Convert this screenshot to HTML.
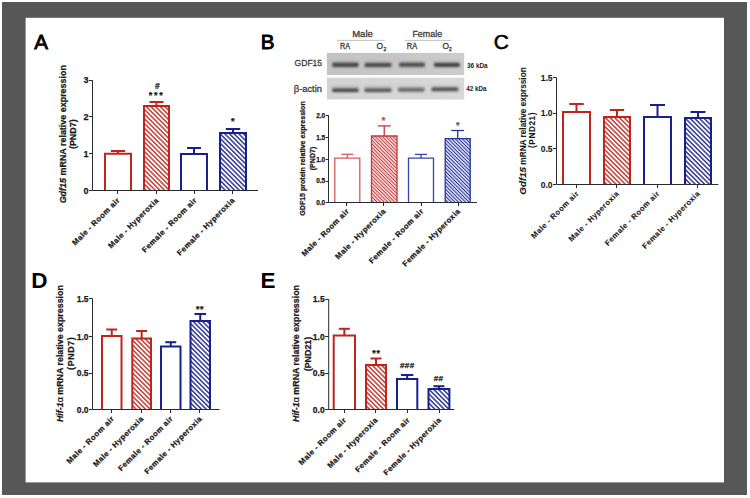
<!DOCTYPE html><html><head><meta charset="utf-8"><style>html,body{margin:0;padding:0;background:#fff;overflow:hidden}svg{display:block}text{font-family:"Liberation Sans",sans-serif}.c text{stroke:#1a1a1a;stroke-width:0.25px}.c2 text{stroke:#222;stroke-width:0.1px}</style></head><body>
<svg width="750" height="498" viewBox="0 0 750 498">
<defs>
<pattern id="hrA" patternUnits="userSpaceOnUse" width="3.3" height="3.3" patternTransform="rotate(-45)"><rect width="3.3" height="3.3" fill="#fff"/><line x1="1.65" y1="0" x2="1.65" y2="3.3" stroke="#c0241c" stroke-width="1.35"/></pattern>
<pattern id="hbA" patternUnits="userSpaceOnUse" width="3.3" height="3.3" patternTransform="rotate(-45)"><rect width="3.3" height="3.3" fill="#fff"/><line x1="1.65" y1="0" x2="1.65" y2="3.3" stroke="#18208e" stroke-width="1.35"/></pattern>
<pattern id="hrB" patternUnits="userSpaceOnUse" width="2.5" height="2.5" patternTransform="rotate(-45)"><rect width="2.5" height="2.5" fill="#fff"/><line x1="1.25" y1="0" x2="1.25" y2="2.5" stroke="#c83636" stroke-width="1.2"/></pattern>
<pattern id="hbB" patternUnits="userSpaceOnUse" width="2.5" height="2.5" patternTransform="rotate(-45)"><rect width="2.5" height="2.5" fill="#fff"/><line x1="1.25" y1="0" x2="1.25" y2="2.5" stroke="#24349c" stroke-width="1.2"/></pattern>
<filter id="blur1" x="-20%" y="-100%" width="140%" height="300%"><feGaussianBlur stdDeviation="1.2 0.9"/></filter>
<filter id="blur2" x="-30%" y="-100%" width="160%" height="300%"><feGaussianBlur stdDeviation="1.5"/></filter>
</defs>
<rect width="750" height="498" fill="#fff"/>
<rect x="2" y="2" width="745" height="493" fill="#575757"/>
<rect x="25.6" y="17.8" width="698.4" height="464.6" fill="#fff"/>
<text x="34.2" y="48.9" font-size="20.6" font-weight="normal" fill="#000" stroke="#000" stroke-width="0.8">A</text>
<g class="c">
<line x1="118" y1="153.8" x2="118" y2="151" stroke="#c0241c" stroke-width="2"/>
<line x1="110.9" y1="151" x2="125.1" y2="151" stroke="#c0241c" stroke-width="2"/>
<rect x="105" y="153.8" width="26" height="36.7" fill="#fff"/>
<path d="M105 190.5V153.8H131V190.5" fill="none" stroke="#c0241c" stroke-width="2"/>
<line x1="156.5" y1="106" x2="156.5" y2="102" stroke="#c0241c" stroke-width="2"/>
<line x1="149.5" y1="102" x2="163.5" y2="102" stroke="#c0241c" stroke-width="2"/>
<rect x="144" y="106" width="25" height="84.5" fill="url(#hrA)"/>
<path d="M144 190.5V106H169V190.5" fill="none" stroke="#c0241c" stroke-width="2"/>
<line x1="194" y1="154" x2="194" y2="148" stroke="#18208e" stroke-width="2"/>
<line x1="187" y1="148" x2="201" y2="148" stroke="#18208e" stroke-width="2"/>
<rect x="181" y="154" width="26" height="36.5" fill="#fff"/>
<path d="M181 190.5V154H207V190.5" fill="none" stroke="#18208e" stroke-width="2"/>
<line x1="233" y1="133" x2="233" y2="129" stroke="#18208e" stroke-width="2"/>
<line x1="225.8" y1="129" x2="240.2" y2="129" stroke="#18208e" stroke-width="2"/>
<rect x="220" y="133" width="26" height="57.5" fill="url(#hbA)"/>
<path d="M220 190.5V133H246V190.5" fill="none" stroke="#18208e" stroke-width="2"/>
<line x1="92.5" y1="80.2" x2="92.5" y2="190.5" stroke="#2a2a2a" stroke-width="1"/>
<line x1="92.5" y1="190.5" x2="258" y2="190.5" stroke="#2a2a2a" stroke-width="1"/>
<line x1="89" y1="190.5" x2="92.5" y2="190.5" stroke="#2a2a2a" stroke-width="1"/>
<text x="88.5" y="193.74" font-size="9" text-anchor="end" font-weight="bold" fill="#1a1a1a">0</text>
<line x1="89" y1="153.5" x2="92.5" y2="153.5" stroke="#2a2a2a" stroke-width="1"/>
<text x="88.5" y="156.74" font-size="9" text-anchor="end" font-weight="bold" fill="#1a1a1a">1</text>
<line x1="89" y1="116.5" x2="92.5" y2="116.5" stroke="#2a2a2a" stroke-width="1"/>
<text x="88.5" y="119.94" font-size="9" text-anchor="end" font-weight="bold" fill="#1a1a1a">2</text>
<line x1="89" y1="80.5" x2="92.5" y2="80.5" stroke="#2a2a2a" stroke-width="1"/>
<text x="88.5" y="83.44" font-size="9" text-anchor="end" font-weight="bold" fill="#1a1a1a">3</text>
<line x1="117.5" y1="190.5" x2="117.5" y2="194" stroke="#2a2a2a" stroke-width="1"/>
<line x1="156.5" y1="190.5" x2="156.5" y2="194" stroke="#2a2a2a" stroke-width="1"/>
<line x1="194.5" y1="190.5" x2="194.5" y2="194" stroke="#2a2a2a" stroke-width="1"/>
<line x1="232.5" y1="190.5" x2="232.5" y2="194" stroke="#2a2a2a" stroke-width="1"/>
<text transform="translate(120.3,200.8) rotate(-45)" font-size="7.7" text-anchor="end" font-weight="bold" fill="#1a1a1a" letter-spacing="0.42">Male - Room air</text>
<text transform="translate(159.3,200.8) rotate(-45)" font-size="7.7" text-anchor="end" font-weight="bold" fill="#1a1a1a" letter-spacing="0.42">Male - Hyperoxia</text>
<text transform="translate(197.3,200.8) rotate(-45)" font-size="7.7" text-anchor="end" font-weight="bold" fill="#1a1a1a" letter-spacing="0.42">Female - Room air</text>
<text transform="translate(235.3,200.8) rotate(-45)" font-size="7.7" text-anchor="end" font-weight="bold" fill="#1a1a1a" letter-spacing="0.42">Female - Hyperoxia</text>
<text x="157.3" y="89.3" font-size="8.5" text-anchor="middle" font-weight="bold" fill="#1a1a1a">#</text>
<text x="156.7" y="98.1" font-size="9" text-anchor="middle" font-weight="bold" fill="#1a1a1a" letter-spacing="1.8">***</text>
<text x="232.8" y="124" font-size="9" text-anchor="middle" font-weight="bold" fill="#1a1a1a">*</text>
<text transform="translate(66,134.2) rotate(-90)" font-size="8.95" text-anchor="middle" font-weight="bold" fill="#1a1a1a"><tspan font-style="italic">Gdf15</tspan> mRNA relative expression</text>
<text transform="translate(75.5,134.2) rotate(-90)" font-size="8.95" text-anchor="middle" font-weight="bold" fill="#1a1a1a">(PND7)</text>
</g>
<text x="493.7" y="48.9" font-size="20.8" font-weight="normal" fill="#000" stroke="#000" stroke-width="0.6">C</text>
<g class="c2">
<line x1="576.5" y1="112" x2="576.5" y2="104" stroke="#c0241c" stroke-width="2"/>
<line x1="569.3" y1="104" x2="583.7" y2="104" stroke="#c0241c" stroke-width="2"/>
<rect x="563" y="112" width="27" height="72.5" fill="#fff"/>
<path d="M563 184.5V112H590V184.5" fill="none" stroke="#c0241c" stroke-width="2"/>
<line x1="617" y1="117" x2="617" y2="110" stroke="#c0241c" stroke-width="2"/>
<line x1="609.8" y1="110" x2="624.2" y2="110" stroke="#c0241c" stroke-width="2"/>
<rect x="604" y="117" width="26" height="67.5" fill="url(#hrA)"/>
<path d="M604 184.5V117H630V184.5" fill="none" stroke="#c0241c" stroke-width="2"/>
<line x1="657.5" y1="117" x2="657.5" y2="105" stroke="#18208e" stroke-width="2"/>
<line x1="650" y1="105" x2="665" y2="105" stroke="#18208e" stroke-width="2"/>
<rect x="644" y="117" width="27" height="67.5" fill="#fff"/>
<path d="M644 184.5V117H671V184.5" fill="none" stroke="#18208e" stroke-width="2"/>
<line x1="698" y1="118" x2="698" y2="112" stroke="#18208e" stroke-width="2"/>
<line x1="690.5" y1="112" x2="705.5" y2="112" stroke="#18208e" stroke-width="2"/>
<rect x="685" y="118" width="26" height="66.5" fill="url(#hbA)"/>
<path d="M685 184.5V118H711V184.5" fill="none" stroke="#18208e" stroke-width="2"/>
<line x1="556.5" y1="77.6" x2="556.5" y2="184.5" stroke="#2a2a2a" stroke-width="1"/>
<line x1="556.5" y1="184.5" x2="718.4" y2="184.5" stroke="#2a2a2a" stroke-width="1"/>
<line x1="553" y1="184.5" x2="556.5" y2="184.5" stroke="#2a2a2a" stroke-width="1"/>
<text x="552.5" y="187.56" font-size="8.5" text-anchor="end" font-weight="bold" fill="#1a1a1a">0.0</text>
<line x1="553" y1="148.5" x2="556.5" y2="148.5" stroke="#2a2a2a" stroke-width="1"/>
<text x="552.5" y="151.76" font-size="8.5" text-anchor="end" font-weight="bold" fill="#1a1a1a">0.5</text>
<line x1="553" y1="113.5" x2="556.5" y2="113.5" stroke="#2a2a2a" stroke-width="1"/>
<text x="552.5" y="116.06" font-size="8.5" text-anchor="end" font-weight="bold" fill="#1a1a1a">1.0</text>
<line x1="553" y1="77.5" x2="556.5" y2="77.5" stroke="#2a2a2a" stroke-width="1"/>
<text x="552.5" y="80.66" font-size="8.5" text-anchor="end" font-weight="bold" fill="#1a1a1a">1.5</text>
<line x1="576.5" y1="184.5" x2="576.5" y2="188" stroke="#2a2a2a" stroke-width="1"/>
<line x1="616.5" y1="184.5" x2="616.5" y2="188" stroke="#2a2a2a" stroke-width="1"/>
<line x1="657.5" y1="184.5" x2="657.5" y2="188" stroke="#2a2a2a" stroke-width="1"/>
<line x1="697.5" y1="184.5" x2="697.5" y2="188" stroke="#2a2a2a" stroke-width="1"/>
<text transform="translate(579.3,194) rotate(-45)" font-size="7.7" text-anchor="end" font-weight="bold" fill="#1a1a1a" letter-spacing="0.42">Male - Room air</text>
<text transform="translate(619.6,194) rotate(-45)" font-size="7.7" text-anchor="end" font-weight="bold" fill="#1a1a1a" letter-spacing="0.42">Male - Hyperoxia</text>
<text transform="translate(660.1,194) rotate(-45)" font-size="7.7" text-anchor="end" font-weight="bold" fill="#1a1a1a" letter-spacing="0.42">Female - Room air</text>
<text transform="translate(700.5,194) rotate(-45)" font-size="7.7" text-anchor="end" font-weight="bold" fill="#1a1a1a" letter-spacing="0.42">Female - Hyperoxia</text>
<text transform="translate(526,131) rotate(-90)" font-size="8.25" text-anchor="middle" font-weight="bold" fill="#1a1a1a"><tspan font-style="italic" font-size="9.8">Gdf15</tspan> mRNA relative exprssion</text>
<text transform="translate(534.8,130) rotate(-90)" font-size="8.25" text-anchor="middle" font-weight="bold" fill="#1a1a1a" letter-spacing="0.55">(PND21)</text>
</g>
<text x="31.2" y="287.7" font-size="22.5" font-weight="bold" fill="#000">D</text>
<g class="c">
<line x1="111.75" y1="336" x2="111.75" y2="329.5" stroke="#c0241c" stroke-width="2"/>
<line x1="106.25" y1="329.5" x2="117.25" y2="329.5" stroke="#c0241c" stroke-width="2"/>
<rect x="102" y="336" width="19.5" height="73.5" fill="#fff"/>
<path d="M102 409.5V336H121.5V409.5" fill="none" stroke="#c0241c" stroke-width="2"/>
<line x1="141.65" y1="338.5" x2="141.65" y2="331" stroke="#c0241c" stroke-width="2"/>
<line x1="136.15" y1="331" x2="147.15" y2="331" stroke="#c0241c" stroke-width="2"/>
<rect x="132.3" y="338.5" width="18.7" height="71" fill="url(#hrA)"/>
<path d="M132.3 409.5V338.5H151V409.5" fill="none" stroke="#c0241c" stroke-width="2"/>
<line x1="170.75" y1="346.5" x2="170.75" y2="342.2" stroke="#18208e" stroke-width="2"/>
<line x1="165.25" y1="342.2" x2="176.25" y2="342.2" stroke="#18208e" stroke-width="2"/>
<rect x="161" y="346.5" width="19.5" height="63" fill="#fff"/>
<path d="M161 409.5V346.5H180.5V409.5" fill="none" stroke="#18208e" stroke-width="2"/>
<line x1="200.25" y1="321" x2="200.25" y2="314" stroke="#18208e" stroke-width="2"/>
<line x1="194.45" y1="314" x2="206.05" y2="314" stroke="#18208e" stroke-width="2"/>
<rect x="190.5" y="321" width="19.5" height="88.5" fill="url(#hbA)"/>
<path d="M190.5 409.5V321H210V409.5" fill="none" stroke="#18208e" stroke-width="2"/>
<line x1="92.5" y1="298.5" x2="92.5" y2="409.5" stroke="#2a2a2a" stroke-width="1"/>
<line x1="92.5" y1="409.5" x2="219.5" y2="409.5" stroke="#2a2a2a" stroke-width="1"/>
<line x1="89" y1="409.5" x2="92.5" y2="409.5" stroke="#2a2a2a" stroke-width="1"/>
<text x="88.5" y="412.56" font-size="8.5" text-anchor="end" font-weight="bold" fill="#1a1a1a">0.0</text>
<line x1="89" y1="373.5" x2="92.5" y2="373.5" stroke="#2a2a2a" stroke-width="1"/>
<text x="88.5" y="376.06" font-size="8.5" text-anchor="end" font-weight="bold" fill="#1a1a1a">0.5</text>
<line x1="89" y1="336.5" x2="92.5" y2="336.5" stroke="#2a2a2a" stroke-width="1"/>
<text x="88.5" y="339.56" font-size="8.5" text-anchor="end" font-weight="bold" fill="#1a1a1a">1.0</text>
<line x1="89" y1="298.5" x2="92.5" y2="298.5" stroke="#2a2a2a" stroke-width="1"/>
<text x="88.5" y="301.56" font-size="8.5" text-anchor="end" font-weight="bold" fill="#1a1a1a">1.5</text>
<line x1="111.5" y1="409.5" x2="111.5" y2="413" stroke="#2a2a2a" stroke-width="1"/>
<line x1="141.5" y1="409.5" x2="141.5" y2="413" stroke="#2a2a2a" stroke-width="1"/>
<line x1="170.5" y1="409.5" x2="170.5" y2="413" stroke="#2a2a2a" stroke-width="1"/>
<line x1="199.5" y1="409.5" x2="199.5" y2="413" stroke="#2a2a2a" stroke-width="1"/>
<text transform="translate(114.7,419.2) rotate(-45)" font-size="7.7" text-anchor="end" font-weight="bold" fill="#1a1a1a" letter-spacing="0.42">Male - Room air</text>
<text transform="translate(144.2,419.2) rotate(-45)" font-size="7.7" text-anchor="end" font-weight="bold" fill="#1a1a1a" letter-spacing="0.42">Male - Hyperoxia</text>
<text transform="translate(173.4,419.2) rotate(-45)" font-size="7.7" text-anchor="end" font-weight="bold" fill="#1a1a1a" letter-spacing="0.42">Female - Room air</text>
<text transform="translate(202.6,419.2) rotate(-45)" font-size="7.7" text-anchor="end" font-weight="bold" fill="#1a1a1a" letter-spacing="0.42">Female - Hyperoxia</text>
<text x="200.1" y="311.5" font-size="8.8" text-anchor="middle" font-weight="bold" fill="#1a1a1a" letter-spacing="0.6">**</text>
<text transform="translate(62.6,353.6) rotate(-90)" font-size="8.9" text-anchor="middle" font-weight="bold" fill="#1a1a1a"><tspan font-style="italic">Hif-1</tspan><tspan font-weight="normal">α</tspan> mRNA relative expression</text>
<text transform="translate(74,353.3) rotate(-90)" font-size="8.9" text-anchor="middle" font-weight="bold" fill="#1a1a1a" letter-spacing="0.6">(PND7)</text>
</g>
<text x="260.5" y="287.7" font-size="22.5" font-weight="bold" fill="#000">E</text>
<g class="c">
<line x1="344.35" y1="335.5" x2="344.35" y2="328.8" stroke="#c0241c" stroke-width="2"/>
<line x1="338.85" y1="328.8" x2="349.85" y2="328.8" stroke="#c0241c" stroke-width="2"/>
<rect x="333.7" y="335.5" width="21.3" height="74" fill="#fff"/>
<path d="M333.7 409.5V335.5H355V409.5" fill="none" stroke="#c0241c" stroke-width="2"/>
<line x1="376" y1="365" x2="376" y2="358.5" stroke="#c0241c" stroke-width="2"/>
<line x1="370.5" y1="358.5" x2="381.5" y2="358.5" stroke="#c0241c" stroke-width="2"/>
<rect x="366" y="365" width="20" height="44.5" fill="url(#hrA)"/>
<path d="M366 409.5V365H386V409.5" fill="none" stroke="#c0241c" stroke-width="2"/>
<line x1="407.15" y1="379" x2="407.15" y2="375" stroke="#18208e" stroke-width="2"/>
<line x1="400.95" y1="375" x2="413.35" y2="375" stroke="#18208e" stroke-width="2"/>
<rect x="397" y="379" width="20.3" height="30.5" fill="#fff"/>
<path d="M397 409.5V379H417.3V409.5" fill="none" stroke="#18208e" stroke-width="2"/>
<line x1="438.95" y1="389" x2="438.95" y2="386.2" stroke="#18208e" stroke-width="2"/>
<line x1="433.45" y1="386.2" x2="444.45" y2="386.2" stroke="#18208e" stroke-width="2"/>
<rect x="428.5" y="389" width="20.9" height="20.5" fill="url(#hbA)"/>
<path d="M428.5 409.5V389H449.4V409.5" fill="none" stroke="#18208e" stroke-width="2"/>
<line x1="328.7" y1="299.1" x2="328.7" y2="409.5" stroke="#2a2a2a" stroke-width="1"/>
<line x1="328.7" y1="409.5" x2="454.5" y2="409.5" stroke="#2a2a2a" stroke-width="1"/>
<line x1="325.2" y1="409.5" x2="328.7" y2="409.5" stroke="#2a2a2a" stroke-width="1"/>
<text x="324.7" y="412.56" font-size="8.5" text-anchor="end" font-weight="bold" fill="#1a1a1a">0.0</text>
<line x1="325.2" y1="373.5" x2="328.7" y2="373.5" stroke="#2a2a2a" stroke-width="1"/>
<text x="324.7" y="376.06" font-size="8.5" text-anchor="end" font-weight="bold" fill="#1a1a1a">0.5</text>
<line x1="325.2" y1="336.5" x2="328.7" y2="336.5" stroke="#2a2a2a" stroke-width="1"/>
<text x="324.7" y="339.56" font-size="8.5" text-anchor="end" font-weight="bold" fill="#1a1a1a">1.0</text>
<line x1="325.2" y1="299.5" x2="328.7" y2="299.5" stroke="#2a2a2a" stroke-width="1"/>
<text x="324.7" y="302.16" font-size="8.5" text-anchor="end" font-weight="bold" fill="#1a1a1a">1.5</text>
<line x1="344.5" y1="409.5" x2="344.5" y2="413" stroke="#2a2a2a" stroke-width="1"/>
<line x1="375.5" y1="409.5" x2="375.5" y2="413" stroke="#2a2a2a" stroke-width="1"/>
<line x1="407.5" y1="409.5" x2="407.5" y2="413" stroke="#2a2a2a" stroke-width="1"/>
<line x1="439.5" y1="409.5" x2="439.5" y2="413" stroke="#2a2a2a" stroke-width="1"/>
<text transform="translate(346.8,420.5) rotate(-45)" font-size="7.7" text-anchor="end" font-weight="bold" fill="#1a1a1a" letter-spacing="0.42">Male - Room air</text>
<text transform="translate(378.4,420.5) rotate(-45)" font-size="7.7" text-anchor="end" font-weight="bold" fill="#1a1a1a" letter-spacing="0.42">Male - Hyperoxia</text>
<text transform="translate(410.4,420.5) rotate(-45)" font-size="7.7" text-anchor="end" font-weight="bold" fill="#1a1a1a" letter-spacing="0.42">Female - Room air</text>
<text transform="translate(441.8,420.5) rotate(-45)" font-size="7.7" text-anchor="end" font-weight="bold" fill="#1a1a1a" letter-spacing="0.42">Female - Hyperoxia</text>
<text x="376.6" y="356.2" font-size="8.8" text-anchor="middle" font-weight="bold" fill="#1a1a1a" letter-spacing="0.8">**</text>
<text x="407.3" y="368.4" font-size="8" text-anchor="middle" font-weight="bold" fill="#1a1a1a" letter-spacing="0.4">###</text>
<text x="438.5" y="380.8" font-size="8" text-anchor="middle" font-weight="bold" fill="#1a1a1a" letter-spacing="0.4">##</text>
<text transform="translate(299,353.5) rotate(-90)" font-size="8.9" text-anchor="middle" font-weight="bold" fill="#1a1a1a"><tspan font-style="italic">Hif-1</tspan><tspan font-weight="normal">α</tspan> mRNA relative expression</text>
<text transform="translate(311,354) rotate(-90)" font-size="8.9" text-anchor="middle" font-weight="bold" fill="#1a1a1a">(PND21)</text>
</g>
<text x="260.7" y="48.9" font-size="20.6" font-weight="normal" fill="#000" stroke="#000" stroke-width="0.9">B</text>
<g class="c">
<line x1="347.3" y1="158.1" x2="347.3" y2="154.3" stroke="#d85a5a" stroke-width="1.3"/>
<line x1="341.3" y1="154.3" x2="353.3" y2="154.3" stroke="#d85a5a" stroke-width="1.3"/>
<rect x="334.8" y="158.1" width="25" height="44.4" fill="#fff"/>
<path d="M334.8 202.5V158.1H359.8V202.5" fill="none" stroke="#d85a5a" stroke-width="1.3"/>
<line x1="384.25" y1="136" x2="384.25" y2="125.9" stroke="#c83636" stroke-width="1.3"/>
<line x1="377.75" y1="125.9" x2="390.75" y2="125.9" stroke="#c83636" stroke-width="1.3"/>
<rect x="371.5" y="136" width="25.5" height="66.5" fill="url(#hrB)"/>
<path d="M371.5 202.5V136H397V202.5" fill="none" stroke="#c83636" stroke-width="1.3"/>
<line x1="421" y1="158.1" x2="421" y2="154.4" stroke="#3444a8" stroke-width="1.3"/>
<line x1="415" y1="154.4" x2="427" y2="154.4" stroke="#3444a8" stroke-width="1.3"/>
<rect x="408.5" y="158.1" width="25" height="44.4" fill="#fff"/>
<path d="M408.5 202.5V158.1H433.5V202.5" fill="none" stroke="#3444a8" stroke-width="1.3"/>
<line x1="457.7" y1="138.6" x2="457.7" y2="130.5" stroke="#24349c" stroke-width="1.3"/>
<line x1="451.3" y1="130.5" x2="464.1" y2="130.5" stroke="#24349c" stroke-width="1.3"/>
<rect x="445.2" y="138.6" width="25" height="63.9" fill="url(#hbB)"/>
<path d="M445.2 202.5V138.6H470.2V202.5" fill="none" stroke="#24349c" stroke-width="1.3"/>
<line x1="328.5" y1="115.3" x2="328.5" y2="202.5" stroke="#2a2a2a" stroke-width="1.0"/>
<line x1="328.5" y1="202.5" x2="477" y2="202.5" stroke="#2a2a2a" stroke-width="1.0"/>
<line x1="325.7" y1="202.5" x2="328.5" y2="202.5" stroke="#2a2a2a" stroke-width="1.0"/>
<text x="325.2" y="204.84" font-size="6.5" text-anchor="end" font-weight="bold" fill="#1a1a1a">0.0</text>
<line x1="325.7" y1="181.5" x2="328.5" y2="181.5" stroke="#2a2a2a" stroke-width="1.0"/>
<text x="325.2" y="183.34" font-size="6.5" text-anchor="end" font-weight="bold" fill="#1a1a1a">0.5</text>
<line x1="325.7" y1="159.5" x2="328.5" y2="159.5" stroke="#2a2a2a" stroke-width="1.0"/>
<text x="325.2" y="161.54" font-size="6.5" text-anchor="end" font-weight="bold" fill="#1a1a1a">1.0</text>
<line x1="325.7" y1="137.5" x2="328.5" y2="137.5" stroke="#2a2a2a" stroke-width="1.0"/>
<text x="325.2" y="139.64" font-size="6.5" text-anchor="end" font-weight="bold" fill="#1a1a1a">1.5</text>
<line x1="325.7" y1="115.5" x2="328.5" y2="115.5" stroke="#2a2a2a" stroke-width="1.0"/>
<text x="325.2" y="117.64" font-size="6.5" text-anchor="end" font-weight="bold" fill="#1a1a1a">2.0</text>
<line x1="346.5" y1="202.5" x2="346.5" y2="206" stroke="#2a2a2a" stroke-width="1.0"/>
<line x1="383.5" y1="202.5" x2="383.5" y2="206" stroke="#2a2a2a" stroke-width="1.0"/>
<line x1="421.5" y1="202.5" x2="421.5" y2="206" stroke="#2a2a2a" stroke-width="1.0"/>
<line x1="458.5" y1="202.5" x2="458.5" y2="206" stroke="#2a2a2a" stroke-width="1.0"/>
<text transform="translate(349.6,211.7) rotate(-45)" font-size="7.7" text-anchor="end" font-weight="bold" fill="#1a1a1a" letter-spacing="0.42">Male - Room air</text>
<text transform="translate(386.3,211.7) rotate(-45)" font-size="7.7" text-anchor="end" font-weight="bold" fill="#1a1a1a" letter-spacing="0.42">Male - Hyperoxia</text>
<text transform="translate(424.1,211.7) rotate(-45)" font-size="7.7" text-anchor="end" font-weight="bold" fill="#1a1a1a" letter-spacing="0.42">Female - Room air</text>
<text transform="translate(460.8,211.7) rotate(-45)" font-size="7.7" text-anchor="end" font-weight="bold" fill="#1a1a1a" letter-spacing="0.42">Female - Hyperoxia</text>
<text x="383.4" y="123.2" font-size="9" text-anchor="middle" font-weight="bold" fill="#b04a40" style="stroke:#b04a40">*</text>
<text x="457.8" y="127.5" font-size="9" text-anchor="middle" font-weight="bold" fill="#5a5c98" style="stroke:#5a5c98">*</text>
<text transform="translate(305.3,158.5) rotate(-90)" font-size="7.05" text-anchor="middle" font-weight="bold" fill="#1a1a1a">GDF15 protein relative expression</text>
<text transform="translate(314.7,158.5) rotate(-90)" font-size="7.05" text-anchor="middle" font-weight="bold" fill="#1a1a1a">(PND7)</text>
</g>
<g fill="#3c3c3c" stroke="#3c3c3c" stroke-width="0.3">
<text x="352.2" y="36.8" font-size="9.3" textLength="20.6" lengthAdjust="spacingAndGlyphs">Male</text>
<text x="412.4" y="36.6" font-size="9.3" textLength="29.8" lengthAdjust="spacingAndGlyphs">Female</text>
<line x1="337.2" y1="40.4" x2="384.8" y2="40.4" stroke="#b4b4b4" stroke-width="0.8"/>
<line x1="404.4" y1="40.4" x2="451.2" y2="40.4" stroke="#b4b4b4" stroke-width="0.8"/>
<text x="340" y="49.2" font-size="8.2" textLength="10" lengthAdjust="spacingAndGlyphs" fill="#2e2e2e">RA</text>
<text x="406.8" y="49.2" font-size="8.2" textLength="10.4" lengthAdjust="spacingAndGlyphs" fill="#2e2e2e">RA</text>
<text x="376.6" y="49.2" font-size="8.4" fill="#3a3a3a">O</text><text x="383.5" y="51.3" font-size="5" fill="#3a3a3a">2</text>
<text x="442.6" y="49.2" font-size="8.4" fill="#3a3a3a">O</text><text x="449.1" y="51.3" font-size="5" fill="#3a3a3a">2</text>
<text x="294.6" y="66.4" font-size="9.2" textLength="27.5" lengthAdjust="spacingAndGlyphs">GDF15</text>
<text x="293.8" y="92.1" font-size="9.4" textLength="28.1" lengthAdjust="spacingAndGlyphs">β-actin</text>
</g>
<linearGradient id="bg1" x1="0" y1="0" x2="1" y2="0"><stop offset="0" stop-color="#c3c3c3"/><stop offset="0.5" stop-color="#c6c6c6"/><stop offset="1" stop-color="#cdcdcd"/></linearGradient>
<linearGradient id="bg2" x1="0" y1="0" x2="1" y2="0"><stop offset="0" stop-color="#d3d3d3"/><stop offset="1" stop-color="#d8d8d8"/></linearGradient>
<rect x="326.9" y="52.9" width="137.3" height="22.2" fill="url(#bg1)"/>
<rect x="326.9" y="77.7" width="137.3" height="21.8" fill="url(#bg2)"/>
<g filter="url(#blur2)" fill="#9a9a9a" opacity="0.5">
<rect x="331.8" y="61" width="27.2" height="7"/>
<rect x="364.2" y="61" width="27.7" height="7"/>
<rect x="398.7" y="61" width="26.6" height="7"/>
<rect x="433.5" y="61" width="26.8" height="7"/>
<rect x="331.8" y="86" width="27.2" height="6"/>
<rect x="364.2" y="86" width="27.7" height="6"/>
<rect x="397.7" y="86" width="27.1" height="6"/>
<rect x="431" y="86" width="27.7" height="6"/>
</g>
<g filter="url(#blur1)">
<rect x="332.3" y="62.8" width="26.2" height="4.1" rx="1.6" fill="#4a4a4a"/>
<rect x="364.7" y="63.0" width="26.7" height="3.9" rx="1.6" fill="#4e4e4e"/>
<rect x="399.2" y="62.7" width="25.6" height="4.1" rx="1.6" fill="#505050"/>
<rect x="434" y="62.9" width="25.8" height="3.8" rx="1.6" fill="#404040"/>
<rect x="332.3" y="88.4" width="26.2" height="3.6" rx="1.5" fill="#4c4c4c"/>
<rect x="364.7" y="88.5" width="26.7" height="3.4" rx="1.5" fill="#5a5a5a"/>
<rect x="398.2" y="88.0" width="26.1" height="3.4" rx="1.5" fill="#6a6a6a"/>
<rect x="431.5" y="87.6" width="26.7" height="3.4" rx="1.5" fill="#555555"/>
</g>
<text x="467" y="67.8" font-size="6.4" font-weight="bold" fill="#1a1a1a" textLength="20.6" lengthAdjust="spacingAndGlyphs">36 kDa</text>
<text x="466.2" y="90.9" font-size="6.3" font-weight="bold" fill="#1a1a1a" textLength="20.2" lengthAdjust="spacingAndGlyphs">42 kDa</text>
</svg></body></html>
